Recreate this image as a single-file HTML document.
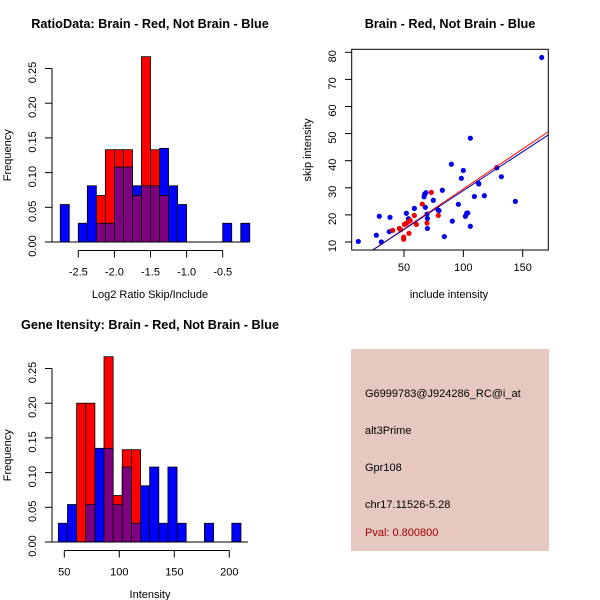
<!DOCTYPE html>
<html><head><meta charset="utf-8"><style>
html,body{margin:0;padding:0;background:#fff;}
svg{display:block;font-family:"Liberation Sans",sans-serif;}
</style></head><body>
<svg id="c" width="600" height="600" viewBox="0 0 600 600">
<rect width="600" height="600" fill="#fff"/>
<g id="p1"></g>
<g id="p2"></g>
<g id="p3"></g>
<g>
<rect x="351" y="349" width="198" height="202" fill="#e6c8c1"/>
<text x="365" y="397" font-size="11" fill="#000">G6999783@J924286_RC@i_at</text>
<text x="365" y="434" font-size="11" fill="#000">alt3Prime</text>
<text x="365" y="471" font-size="11" fill="#000">Gpr108</text>
<text x="365" y="508" font-size="11" fill="#000">chr17.11526-5.28</text>
<text x="365" y="536" font-size="11" fill="#a00000">Pval: 0.800800</text>
</g>
</svg>
<script>
// Panel 1: log2 ratio histogram
const ratioBreakStart = -2.75;
const ratioBinWidth = 0.125;
const ratioBlue = [0.054,0,0.027,0.081,0.027,0.027,0.108,0.108,0.081,0.081,0.081,0.135,0.081,0.054,0,0,0,0,0.027,0,0.027];
const ratioRed  = [0,0,0,0,0.067,0.133,0.133,0.133,0.067,0.267,0.133,0.067,0,0,0,0,0,0,0,0,0];
const ratioXTicks = [-2.5,-2.0,-1.5,-1.0,-0.5];
const ratioXTickLabels = ["-2.5","-2.0","-1.5","-1.0","-0.5"];
const freqTicks = [0,0.05,0.10,0.15,0.20,0.25];
const freqTickLabels = ["0.00","0.05","0.10","0.15","0.20","0.25"];
// Panel 3: intensity histogram
const intBreakStart = 44.6;
const intBinWidth = 8.3;
const intBlue = [0.027,0.054,0,0.054,0.135,0.135,0.054,0.108,0.027,0.081,0.108,0.027,0.108,0.027,0,0,0.027,0,0,0.027];
const intRed  = [0,0,0.2,0.2,0,0.267,0.067,0.133,0.133,0,0,0,0,0,0,0,0,0,0,0];
const intXTicks = [50,100,150,200];
const intXTickLabels = ["50","100","150","200"];
// Panel 2: scatter
const blueX = [11.5,26.7,29.2,30.9,37.6,38.2,52,53.7,58.7,66.9,67.4,68,68.5,69.4,69.7,69.7,74.7,78.7,79.5,82.3,84,89.9,90.7,95.8,98.3,100,101.7,102.8,103.7,105.9,105.9,109.3,112.6,113,117.7,128.1,132,143.8,166];
const blueY = [10.2,12.5,19.5,10,13.8,19.1,20.6,18.6,22.4,26.7,27.7,22.8,28.2,20.3,18.7,15,25.4,21.8,21.6,29.1,12,38.7,17.7,23.9,33.5,36.4,19.5,20.6,20.7,48.3,15.8,26.8,31.8,31.4,27.1,37.4,34.1,25,78.1];
const redX = [40.4,46.1,47.2,49.7,49.7,50.3,51.7,53.7,54.2,55.3,58.7,60.4,65.4,69.4,73,78.9];
const redY = [14.3,15,14.5,11,11.8,16.5,16.8,17.5,13.2,18,19.8,16.5,24,17,28.3,19.8];
const fitRed = [0.07,0.295];   // intercept, slope
const fitBlue = [0.26,0.287];
const scatXTicks = [50,100,150];
const scatXTickLabels = ["50","100","150"];
const scatYTicks = [10,20,30,40,50,60,70,80];
const scatYTickLabels = ["10","20","30","40","50","60","70","80"];

const NS = "http://www.w3.org/2000/svg";
function mk(parent, tag, attrs){const e=document.createElementNS(NS,tag);for(const k in attrs)e.setAttribute(k,attrs[k]);parent.appendChild(e);return e;}
function txt(parent,x,y,s,size,anchor,rot,bold){
  const t=mk(parent,"text",{x:x,y:y,"font-size":size,"text-anchor":anchor||"middle",fill:"#000"});
  if(bold)t.setAttribute("font-weight","bold");
  if(rot)t.setAttribute("transform","rotate(-90 "+x+" "+y+")");
  t.textContent=s;return t;
}

function histogram(g, start, w, blue, red, xs, ys, xticks, xlabels, title, xlabel, titleY, axisTop, xlab){
  txt(g,150,titleY,title,12.7,"middle",false,true);
  const n=Math.max(blue.length,red.length);
  const groups=[["blue",blue,"#0000ff"],["red",red,"#ff0000"]];
  for(const [nm,arr,col] of groups){
    for(let i=0;i<n;i++){
      const v=arr[i]||0; if(v<=0)continue;
      const x0=xs(start+i*w),x1=xs(start+(i+1)*w);
      const r=mk(g,"rect",{x:x0,y:ys(v),width:x1-x0,height:ys(0)-ys(v),fill:col,stroke:"#000","stroke-width":0.8});
      
      
    }
  }
  for(let i=0;i<n;i++){
    const v=Math.min(blue[i]||0,red[i]||0); if(v<=0)continue;
    const x0=xs(start+i*w),x1=xs(start+(i+1)*w);
    const r=mk(g,"rect",{x:x0,y:ys(v),width:x1-x0,height:ys(0)-ys(v),fill:"#7f007f",stroke:"#000","stroke-width":0.8});
    
    
  }
  const base=mk(g,"line",{x1:52,x2:248,y1:ys(0),y2:ys(0),stroke:"#000","stroke-width":1});
  
  const ya=mk(g,"g",{});
  
  mk(ya,"line",{x1:52,x2:52,y1:ys(0),y2:ys(0.25),stroke:"#000"});
  freqTicks.forEach((t,i)=>{
    mk(ya,"line",{x1:45,x2:52,y1:ys(t),y2:ys(t),stroke:"#000"});
    const l=txt(ya,36,ys(t)+4,freqTickLabels[i],11,"middle",true);
    
  });
  const yt=txt(g,11,ys(0.125),"Frequency",11,"middle",true);
  
  const xa=mk(g,"g",{});
  
  const ay=ys(0)+8.5;
  mk(xa,"line",{x1:xs(xticks[0]),x2:xs(xticks[xticks.length-1]),y1:ay,y2:ay,stroke:"#000"});
  xticks.forEach((t,i)=>{
    mk(xa,"line",{x1:xs(t),x2:xs(t),y1:ay,y2:ay+7,stroke:"#000"});
    const l=txt(xa,xs(t),ay+25,xlabels[i],11);
    
  });
  const xt=txt(g,150,xlab,xlabel,11);
  
}

const p1=document.getElementById("p1");
histogram(p1,ratioBreakStart,ratioBinWidth,ratioBlue,ratioRed,
  v=>78.3+(v+2.5)*72.2, v=>242-v*694,
  ratioXTicks,ratioXTickLabels,"RatioData: Brain - Red, Not Brain - Blue","Log2 Ratio Skip/Include",28,0,298);
const p3=document.getElementById("p3");
histogram(p3,intBreakStart,intBinWidth,intBlue,intRed,
  v=>64.3+(v-50)*1.1, v=>542-v*694,
  intXTicks,intXTickLabels,"Gene Itensity: Brain - Red, Not Brain - Blue","Intensity",329,0,598);

const p2=document.getElementById("p2");
const sx=v=>404+(v-50)*1.187, sy=v=>242-(v-10)*2.71;
txt(p2,450,28,"Brain - Red, Not Brain - Blue",12.7,"middle",false,true);
const clip=mk(p2,"clipPath",{id:"sc"});mk(clip,"rect",{x:352,y:49,width:196,height:201});
const pts=mk(p2,"g",{"clip-path":"url(#sc)"});

blueX.forEach((x,i)=>{const c=mk(pts,"circle",{cx:sx(x),cy:sy(blueY[i]),r:2.6,fill:"#0000ee"});
  
  });
redX.forEach((x,i)=>{const c=mk(pts,"circle",{cx:sx(x),cy:sy(redY[i]),r:2.6,fill:"#ee0000"});
  
  });
[[fitRed,"#ff0000","red-fit-line"],[fitBlue,"#0000aa","blue-fit-line"]].forEach(([f,col,nm])=>{
  const x0=0,x1=180;
  const l=mk(pts,"line",{x1:sx(x0),y1:sy(f[0]+f[1]*x0),x2:sx(x1),y2:sy(f[0]+f[1]*x1),stroke:col,"stroke-width":1});
  
  
});
const box=mk(p2,"rect",{x:351.7,y:49.3,width:196.6,height:200.7,fill:"none",stroke:"#000"});

const sya=mk(p2,"g",{});
scatYTicks.forEach((t,i)=>{mk(sya,"line",{x1:345,x2:351.7,y1:sy(t),y2:sy(t),stroke:"#000"});
  const l=txt(sya,336,sy(t)+4,scatYTickLabels[i],11,"middle",true);});
const sxa=mk(p2,"g",{});
scatXTicks.forEach((t,i)=>{mk(sxa,"line",{x1:sx(t),x2:sx(t),y1:250,y2:257,stroke:"#000"});
  const l=txt(sxa,sx(t),271,scatXTickLabels[i],11);});
txt(p2,449,298,"include intensity",11);
txt(p2,311,150,"skip intensity",11,"middle",true);
</script>
</body></html>
